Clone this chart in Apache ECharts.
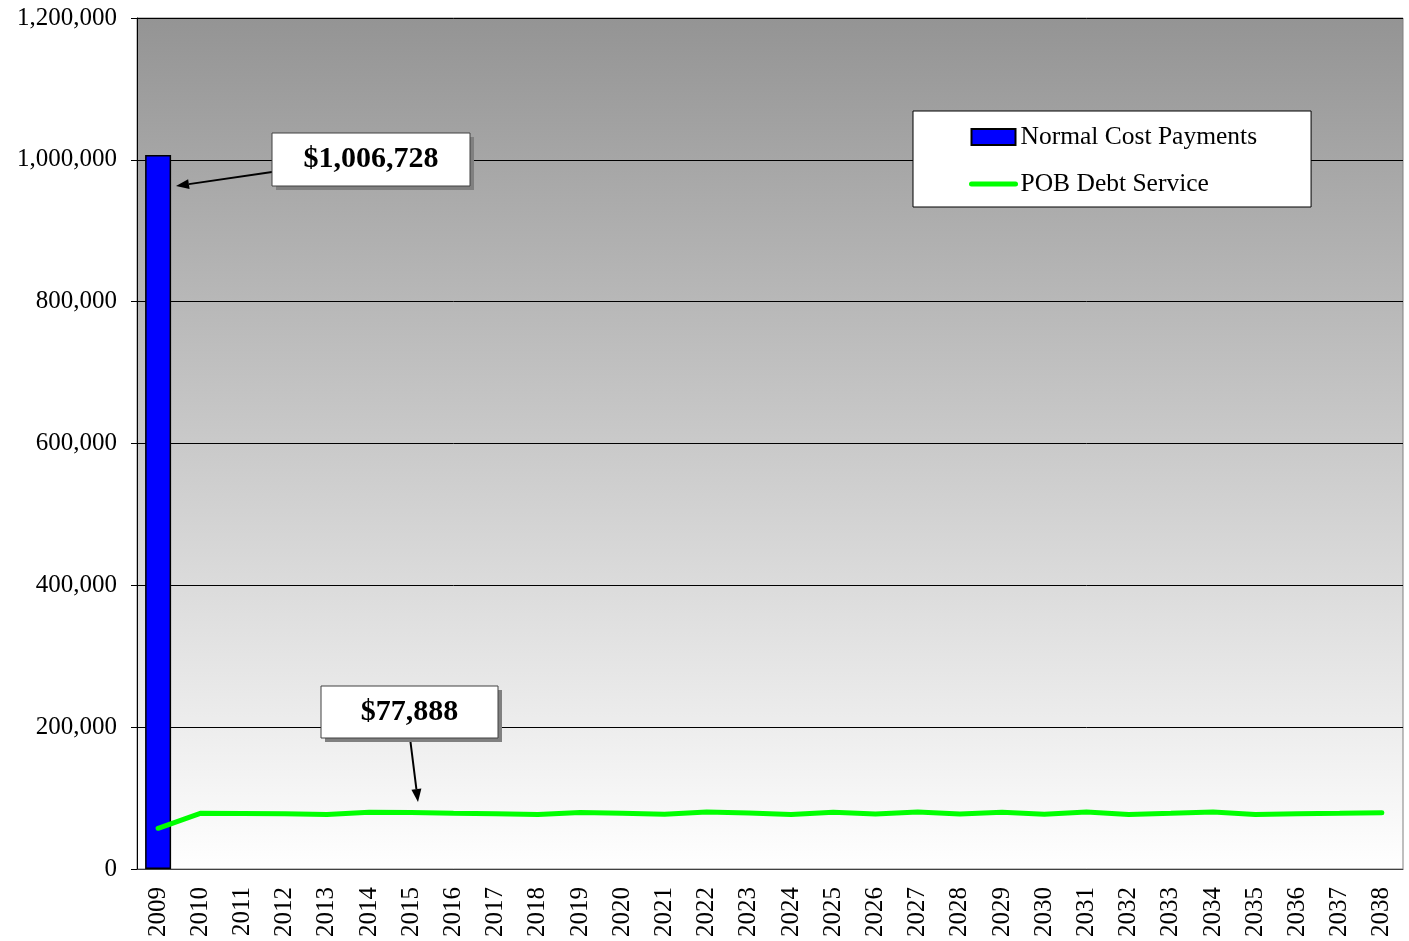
<!DOCTYPE html>
<html>
<head>
<meta charset="utf-8">
<script src="https://cdn.jsdelivr.net/npm/echarts@6/dist/echarts.min.js"></script>
<style>
  html, body { margin: 0; padding: 0; background: #fff; }
  #chart { width: 1409px; height: 941px; }
</style>
</head>
<body>
<div id="chart"></div>
<script>
const years = ["2009", "2010", "2011", "2012", "2013", "2014", "2015", "2016", "2017", "2018",
  "2019", "2020", "2021", "2022", "2023", "2024", "2025", "2026", "2027", "2028",
  "2029", "2030", "2031", "2032", "2033", "2034", "2035", "2036", "2037", "2038"];

const normalCost = [1006728, "-", "-", "-", "-", "-", "-", "-", "-", "-",
  "-", "-", "-", "-", "-", "-", "-", "-", "-", "-",
  "-", "-", "-", "-", "-", "-", "-", "-", "-", "-"];

const pobDebt = [57400, 78500, 78300, 77800, 77000, 80000, 79500, 78500, 77900, 77000,
  79800, 78600, 77300, 80300, 78800, 77000, 79900, 77500, 80300, 77600,
  80000, 77300, 80300, 77000, 78500, 80300, 77000, 77800, 78500, 79300];

const yTicks = [0, 200000, 400000, 600000, 800000, 1000000, 1200000];
const callouts = ["$1,006,728", "$77,888"];

const FONT = "'Liberation Serif', 'Times New Roman', serif";

const chart = echarts.init(document.getElementById("chart"));

// callout box with drop shadow
function box(x, y, w, h, text) {
  return [
    {type: "rect", shape: {x: x + 4, y: y + 4, width: w, height: h}, style: {fill: "#808080"}, z: 100},
    {type: "rect", shape: {x: x, y: y, width: w, height: h}, style: {fill: "#fff", stroke: "#404040", lineWidth: 1}, z: 101},
    {type: "text", x: x + w / 2, y: y + h / 2, z: 102,
      style: {text: text, font: "bold 30px " + FONT, fill: "#000", align: "center", verticalAlign: "middle"}}
  ];
}

function arrow(x1, y1, x2, y2) {
  const a = Math.atan2(y2 - y1, x2 - x1);
  const len = 13, half = 5;
  const bx = x2 - len * Math.cos(a), by = y2 - len * Math.sin(a);
  return [
    {type: "line", shape: {x1: x1, y1: y1, x2: bx, y2: by}, style: {stroke: "#000", lineWidth: 2}, z: 100},
    {type: "polygon", z: 100, shape: {points: [
      [x2, y2],
      [bx + half * Math.sin(a), by - half * Math.cos(a)],
      [bx - half * Math.sin(a), by + half * Math.cos(a)]
    ]}, style: {fill: "#000"}}
  ];
}

chart.setOption({
  animation: false,
  textStyle: {fontFamily: FONT},
  grid: {
    left: 137,
    right: 6,
    top: 18,
    bottom: 72,
    show: true,
    borderColor: "#808080",
    borderWidth: 1,
    backgroundColor: new echarts.graphic.LinearGradient(0, 0, 0, 1, [
      {offset: 0, color: "#949494"},
      {offset: 1, color: "#ffffff"}
    ])
  },
  legend: {
    orient: "vertical",
    left: 913,
    top: 111,
    padding: [13, 54, 10, 56],
    backgroundColor: "#fff",
    borderColor: "#000",
    borderWidth: 1,
    itemWidth: 44,
    itemHeight: 16,
    itemGap: 21,
    textStyle: {fontFamily: FONT, fontSize: 25.5, color: "#000"},
    data: [
      {name: "Normal Cost Payments", icon: "rect"},
      {
        name: "POB Debt Service",
        itemStyle: {color: "rgba(0,0,0,0)", borderWidth: 0},
        lineStyle: {width: 5, color: "#00ff00", cap: "round"}
      }
    ]
  },
  xAxis: {
    type: "category",
    data: years,
    axisLine: {lineStyle: {color: "#404040", width: 1}},
    axisTick: {length: 8, lineStyle: {color: "#000"}},
    axisLabel: {rotate: 90, fontSize: 25, color: "#000", fontFamily: FONT, margin: 18, interval: 0}
  },
  yAxis: {
    type: "value",
    min: yTicks[0],
    max: yTicks[yTicks.length - 1],
    interval: 200000,
    axisLine: {show: true, lineStyle: {color: "#000"}},
    axisTick: {show: true, length: 6, lineStyle: {color: "#000"}},
    axisLabel: {
      fontSize: 25, color: "#000", fontFamily: FONT, margin: 20,
      formatter: v => v.toLocaleString("en-US")
    },
    splitLine: {lineStyle: {color: "#000", width: 1}}
  },
  series: [
    {
      name: "Normal Cost Payments",
      type: "bar",
      data: normalCost,
      barWidth: 26,
      itemStyle: {color: "#0000ff", borderColor: "#000", borderWidth: 1.5}
    },
    {
      name: "POB Debt Service",
      type: "line",
      data: pobDebt,
      symbol: "none",
      lineStyle: {color: "#00ff00", width: 5, cap: "round"},
      itemStyle: {color: "#00ff00"}
    }
  ],
  graphic: [
    ...arrow(272, 172, 176, 186),
    ...box(272, 133, 198, 53, callouts[0]),
    ...arrow(410, 738, 418, 802),
    ...box(321, 686, 177, 52, callouts[1])
  ]
});
</script>
</body>
</html>
